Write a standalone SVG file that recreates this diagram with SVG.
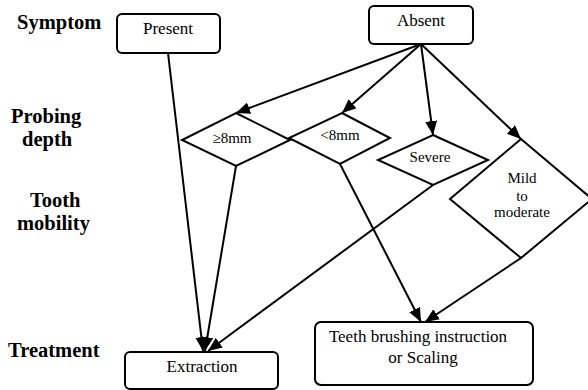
<svg xmlns="http://www.w3.org/2000/svg" width="588" height="390" viewBox="0 0 588 390">
<defs>
<marker id="ah" markerUnits="userSpaceOnUse" viewBox="0 0 14 12" refX="14" refY="6" markerWidth="14" markerHeight="12" orient="auto">
<path d="M0,0 L14,6 L0,12 Z" fill="#000"/>
</marker>
</defs>
<g id="labels">
<text x="17" y="29" font-family="Liberation Serif" font-weight="bold" font-size="20.5">Symptom</text>
<text x="11" y="123" font-family="Liberation Serif" font-weight="bold" font-size="20.5">Probing</text>
<text x="22" y="146" font-family="Liberation Serif" font-weight="bold" font-size="20.5">depth</text>
<text x="30" y="207" font-family="Liberation Serif" font-weight="bold" font-size="20.5">Tooth</text>
<text x="17" y="230" font-family="Liberation Serif" font-weight="bold" font-size="20.5">mobility</text>
<text x="8" y="357" font-family="Liberation Serif" font-weight="bold" font-size="20.5">Treatment</text>
</g>
<g id="connectors" stroke="#000" stroke-width="2" fill="none" marker-end="url(#ah)">
<line x1="168" y1="53" x2="203" y2="351"/>
<line x1="236" y1="166" x2="205" y2="351"/>
<line x1="433" y1="185" x2="208" y2="351"/>
<line x1="421" y1="44" x2="236" y2="113"/>
<line x1="421" y1="44" x2="342" y2="113"/>
<line x1="421" y1="44" x2="433" y2="135"/>
<line x1="421" y1="44" x2="521" y2="139"/>
<line x1="340" y1="164" x2="421" y2="322"/>
<line x1="521" y1="258" x2="425" y2="322"/>
</g>
<g id="present">
<rect x="117" y="14" width="103" height="39" rx="5" fill="#fff" stroke="#000" stroke-width="2"/>
<text x="168" y="34" font-family="Liberation Serif" font-size="17" text-anchor="middle">Present</text>
</g>
<g id="absent">
<rect x="369" y="6" width="104" height="38" rx="5" fill="#fff" stroke="#000" stroke-width="2"/>
<text x="421" y="26" font-family="Liberation Serif" font-size="17" text-anchor="middle">Absent</text>
</g>
<g id="ge8mm">
<polygon points="236,113 290,140 236,166 182,140" fill="#fff" stroke="#000" stroke-width="2"/>
<text x="232" y="143" font-family="Liberation Serif" font-size="15" text-anchor="middle">≥8mm</text>
</g>
<g id="lt8mm">
<polygon points="342,113 390,138 340,164 289,138" fill="#fff" stroke="#000" stroke-width="2"/>
<text x="340" y="140" font-family="Liberation Serif" font-size="15" text-anchor="middle">&lt;8mm</text>
</g>
<g id="severe">
<polygon points="433,135 488,160 433,185 378,160" fill="#fff" stroke="#000" stroke-width="2"/>
<text x="430" y="162" font-family="Liberation Serif" font-size="15" text-anchor="middle">Severe</text>
</g>
<g id="mild">
<polygon points="521,139 592,199 521,258 450,199" fill="#fff" stroke="#000" stroke-width="2"/>
<text x="522" y="183" font-family="Liberation Serif" font-size="15" text-anchor="middle">Mild</text>
<text x="522" y="201" font-family="Liberation Serif" font-size="15" text-anchor="middle">to</text>
<text x="522" y="217" font-family="Liberation Serif" font-size="15" text-anchor="middle">moderate</text>
</g>
<g id="extraction">
<rect x="125" y="352" width="153" height="37" rx="5" fill="#fff" stroke="#000" stroke-width="2"/>
<text x="202" y="372" font-family="Liberation Serif" font-size="17" text-anchor="middle">Extraction</text>
</g>
<g id="teeth">
<rect x="315" y="322" width="218" height="63" rx="6" fill="#fff" stroke="#000" stroke-width="2"/>
<text x="418" y="342" font-family="Liberation Serif" font-size="17" text-anchor="middle">Teeth brushing instruction</text>
<text x="423" y="363" font-family="Liberation Serif" font-size="17" text-anchor="middle">or Scaling</text>
</g>
</svg>
